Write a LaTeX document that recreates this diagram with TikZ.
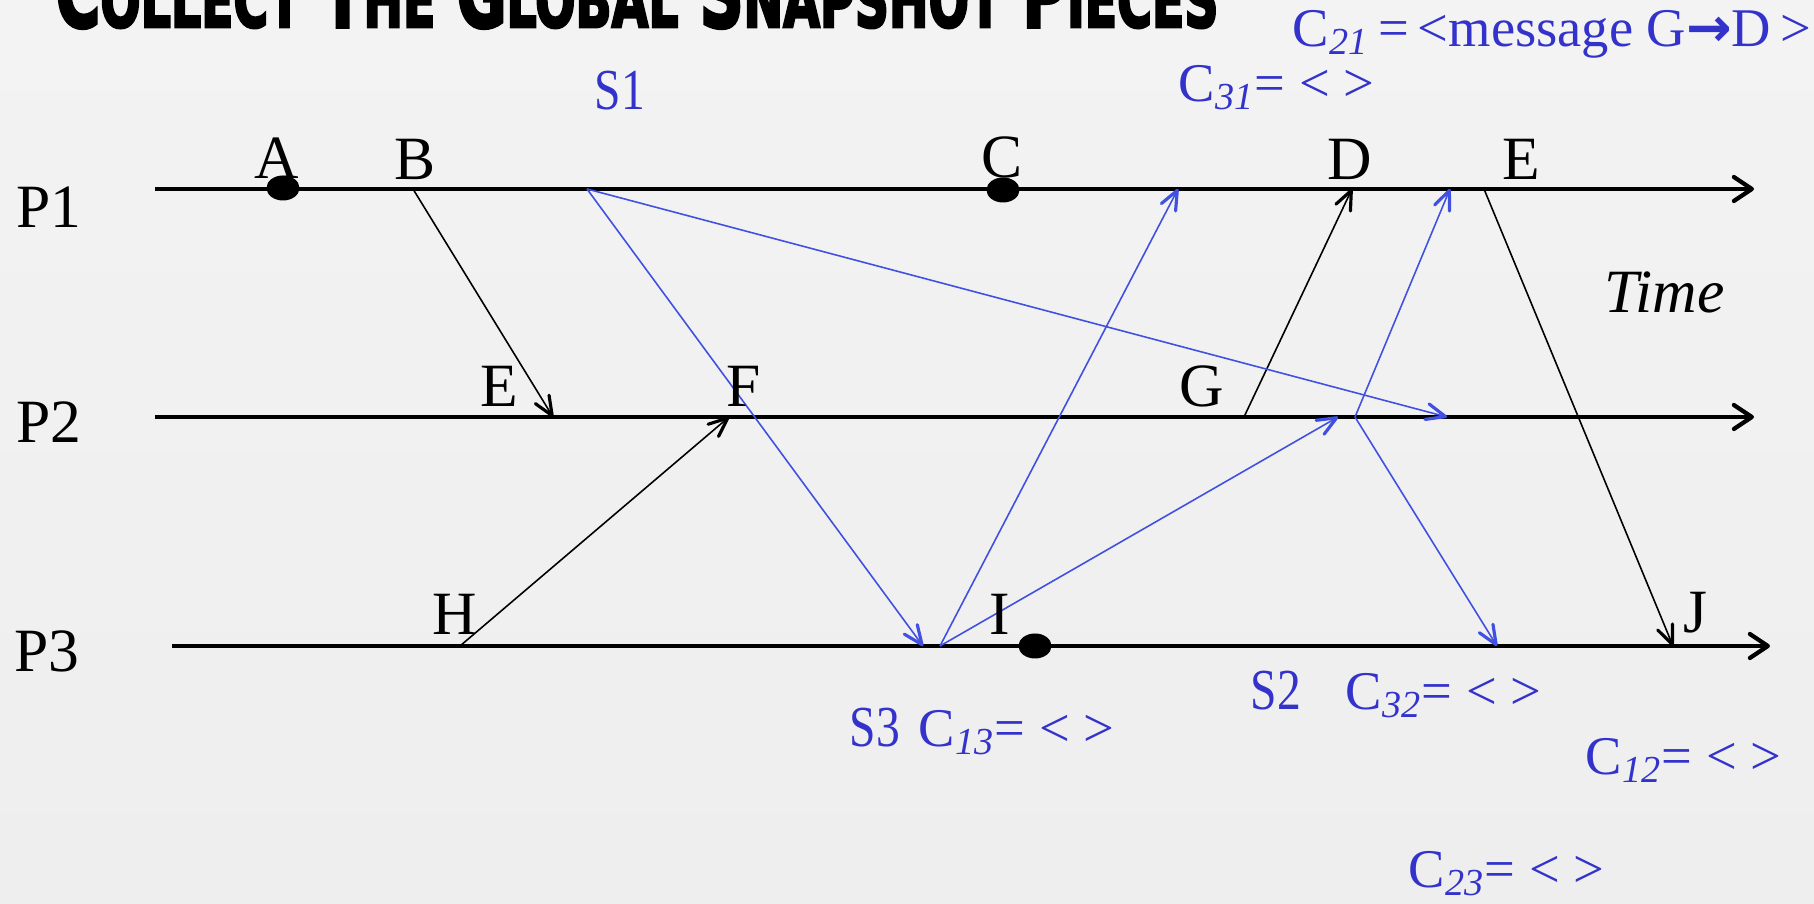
\documentclass[tikz,border=0pt]{standalone}
\usepackage{fontspec}
\setmainfont{Liberation Serif}
\newfontfamily\titlefont{DejaVu Sans}[BoldFeatures={FakeBold=4}]
\newfontfamily\arrowfont{DejaVu Sans}
\usetikzlibrary{arrows.meta,shapes.geometric}
\definecolor{bgtop}{RGB}{243,243,243}
\definecolor{bgbot}{RGB}{238,238,238}
\definecolor{txtblue}{RGB}{51,51,204}
\definecolor{lnblue}{RGB}{64,80,224}
\newcommand\mytbig[1]{{\fontsize{10}{10}\selectfont #1}}
\newcommand\mytsm[1]{{\fontsize{7.8}{8}\selectfont #1}}
\begin{document}
\begin{tikzpicture}[x=0.01cm,y=-0.01cm,
  proc/.style={line width=1.2pt,-{Straight Barb[length=0.18cm,width=0.24cm,line width=1.2pt,round]}},
  msg/.style={line width=0.45pt,-{Straight Barb[length=0.19cm,width=0.16cm,line width=0.9pt,round]}},
  bmsg/.style={msg,draw=lnblue},
  lbl/.style={anchor=base west,inner sep=0pt,font=\fontsize{17.5}{20}\selectfont},
  blbl/.style={anchor=base west,inner sep=0pt,text=txtblue,font=\fontsize{15.5}{18}\selectfont},
  slbl/.style={anchor=base west,inner sep=0pt,text=txtblue,xscale=0.82,font=\fontsize{16.5}{18}\selectfont},
  evdot/.style={ellipse,fill=black,inner sep=0pt,minimum width=0.33cm,minimum height=0.25cm}]
\clip (0,0) rectangle (1814,904);
\shade[top color=bgtop,bottom color=bgbot] (0,0) rectangle (1814,904);

% title (its top lies beyond the upper edge, as in the reference)
\node[anchor=base west,inner sep=0pt] (title) at (55,27) {\resizebox{11.62cm}{0.7cm}{\titlefont\bfseries
  \mytbig{C}\mytsm{OLLECT} \mytbig{T}\mytsm{HE} \mytbig{G}\mytsm{LOBAL} \mytbig{S}\mytsm{NAPSHOT} \mytbig{P}\mytsm{IECES}}};

% process lines
\coordinate (p1s) at (155,189); \coordinate (p1e) at (1754,189);
\coordinate (p2s) at (155,417); \coordinate (p2e) at (1754,417);
\coordinate (p3s) at (172,646); \coordinate (p3e) at (1770,646);
\draw[proc] (p1s) -- (p1e);
\draw[proc] (p2s) -- (p2e);
\draw[proc] (p3s) -- (p3e);

% events
\coordinate (bsend) at (413,189);
\coordinate (erecv) at (553,417);
\coordinate (s1pt) at (587,189);
\coordinate (s3recv) at (923,646);
\coordinate (s1p2) at (1447,417);
\coordinate (hsend) at (460,646);
\coordinate (frecv) at (729,417);
\coordinate (s3send) at (940,646);
\coordinate (s3p1) at (1178,189);
\coordinate (s3p2) at (1338,417);
\coordinate (gsend) at (1244,417);
\coordinate (drecv) at (1352,189);
\coordinate (s2pt) at (1355,417);
\coordinate (s2p1) at (1450,189);
\coordinate (s2p3) at (1497,646);
\coordinate (esend) at (1484,189);
\coordinate (jrecv) at (1673,646);

% black messages
\draw[msg] (bsend) -- (erecv);
\draw[msg] (hsend) -- (frecv);
\draw[msg] (gsend) -- (drecv);
\draw[msg] (esend) -- (jrecv);
% blue markers
\draw[bmsg] (s1pt) -- (s3recv);
\draw[bmsg] (s1pt) -- (s1p2);
\draw[bmsg] (s3send) -- (s3p1);
\draw[bmsg] (s3send) -- (s3p2);
\draw[bmsg] (s2pt) -- (s2p1);
\draw[bmsg] (s2pt) -- (s2p3);

% black labels
\node[lbl] (lp1) at (16,228) {P1};
\node[lbl] (lp2) at (16,443) {P2};
\node[lbl] (lp3) at (14,672) {P3};
\node[lbl] (la) at (254,179) {A};
\node[lbl] (lb) at (394,180) {B};
\node[lbl] (lc) at (981,178) {C};
\node[lbl] (ld) at (1327,180) {D};
\node[lbl] (le1) at (1502,180) {E};
\node[lbl] (le2) at (480,407) {E};
\node[lbl] (lf) at (726,407) {F};
\node[lbl] (lg) at (1179,407) {G};
\node[lbl] (lh) at (432,635) {H};
\node[lbl] (li) at (989,635) {I};
\node[lbl] (lj) at (1683,633) {J};
\node[lbl] (time) at (1604,313) {\itshape Time};

% dots
\node[evdot] (dota) at (283,188) {};
\node[evdot] (dotc) at (1003,190) {};
\node[evdot] (doti) at (1035,646) {};

% blue labels
\node[slbl] (s1) at (594,110) {S1};
\node[slbl] (s3) at (849,747) {S3};
\node[slbl] (s2) at (1250,710) {S2};
\node[blbl] (c21) at (1292,47) {C\textsubscript{\textit{21}}\,=\,<message G{\arrowfont\bfseries →}D\,>};
\node[blbl] (c31) at (1178,102) {C\textsubscript{\textit{31}}= < >};
\node[blbl] (c13) at (918,747) {C\textsubscript{\textit{13}}= < >};
\node[blbl] (c32) at (1345,710) {C\textsubscript{\textit{32}}= < >};
\node[blbl] (c12) at (1585,775) {C\textsubscript{\textit{12}}= < >};
\node[blbl] (c23) at (1408,888) {C\textsubscript{\textit{23}}= < >};
\end{tikzpicture}
\end{document}
